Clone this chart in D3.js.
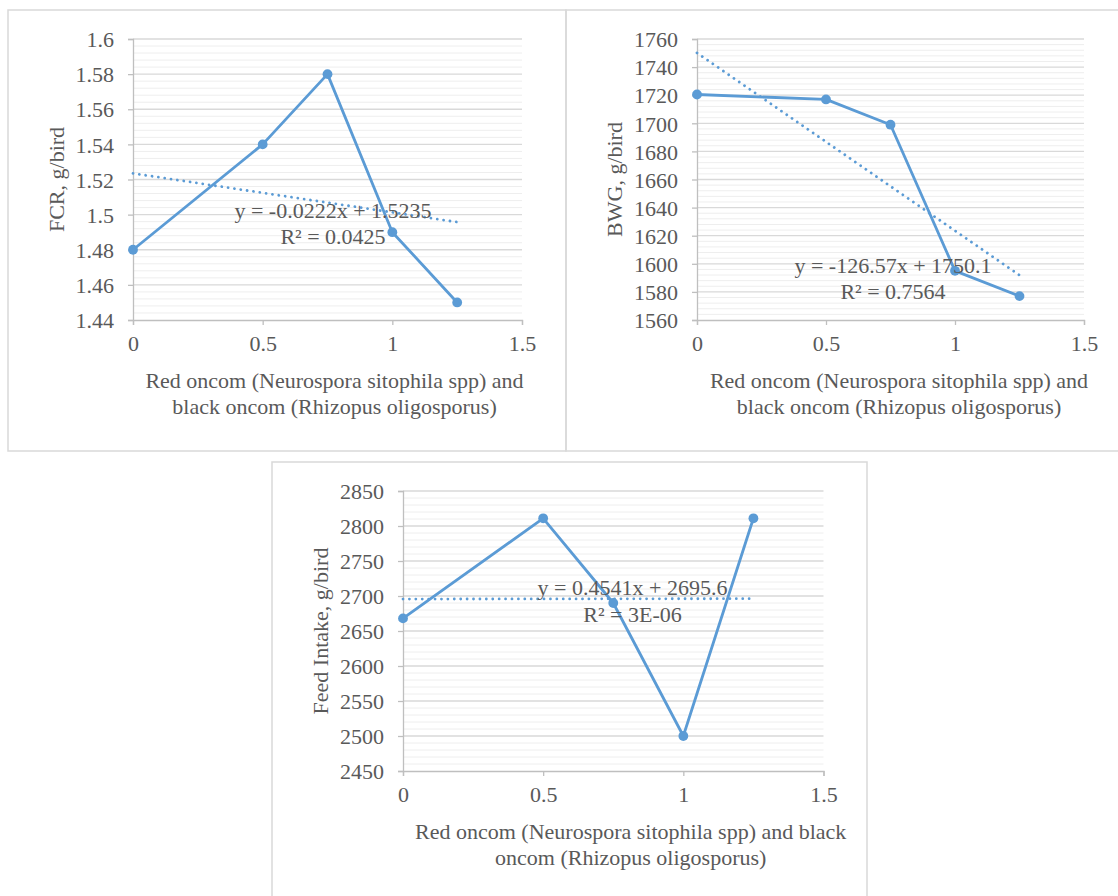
<!DOCTYPE html>
<html>
<head>
<meta charset="utf-8">
<script src="https://cdn.jsdelivr.net/npm/d3@7"></script>
<style>
  body { margin: 0; background: #fff; }
  svg { display: block; }
  text { font-family: "Liberation Serif", "Tinos", "Times New Roman", "DejaVu Serif", serif; fill: #595959; }
</style>
</head>
<body>
<svg id="chart" width="1118" height="896"></svg>
<script>
// Oncom level (x) shared by all three panels
const doseLevels = [0, 0.5, 0.75, 1, 1.25];
const xTicks = [0, 0.5, 1, 1.5];

// FCR panel
const fcrValues = [1.48, 1.54, 1.58, 1.49, 1.45];
const fcrTicks = [1.44, 1.46, 1.48, 1.5, 1.52, 1.54, 1.56, 1.58, 1.6];
const fcrTrend = [-0.0222, 1.5235];
const fcrTrendText = ['y = -0.0222x + 1.5235', 'R² = 0.0425'];

// BWG panel
const bwgValues = [1720.5, 1717, 1699, 1595, 1577];
const bwgTicks = [1560, 1580, 1600, 1620, 1640, 1660, 1680, 1700, 1720, 1740, 1760];
const bwgTrend = [-126.57, 1750.1];
const bwgTrendText = ['y = -126.57x + 1750.1', 'R² = 0.7564'];

// Feed intake panel
const feedValues = [2668, 2811, 2690, 2500, 2811];
const feedTicks = [2450, 2500, 2550, 2600, 2650, 2700, 2750, 2800, 2850];
const feedTrend = [0.4541, 2695.6];
const feedTrendText = ['y = 0.4541x + 2695.6', 'R² = 3E-06'];

const blue = '#5B9BD5';
const svg = d3.select('#chart');

// panel frames
svg.append('rect').attr('x', 8).attr('y', 10).attr('width', 558).attr('height', 441)
    .attr('fill', 'none').attr('stroke', '#d9d9d9').attr('stroke-width', 1.5);
svg.append('rect').attr('x', 566).attr('y', 10).attr('width', 570).attr('height', 441)
    .attr('fill', 'none').attr('stroke', '#d9d9d9').attr('stroke-width', 1.5);
svg.append('rect').attr('x', 272).attr('y', 462).attr('width', 595).attr('height', 460)
    .attr('fill', 'none').attr('stroke', '#d9d9d9').attr('stroke-width', 1.5);

function drawPanel(p) {
    const x = d3.scaleLinear().domain([0, 1.5]).range([p.left, p.right]);
    const y = d3.scaleLinear().domain(d3.extent(p.ticks)).range([p.bottom, p.top]);
    const g = svg.append('g');

    // minor gridlines (5 subdivisions)
    const minor = [];
    for (let i = 0; i < p.ticks.length - 1; i++) {
        const step = (p.ticks[i + 1] - p.ticks[i]) / 5;
        for (let k = 1; k < 5; k++) minor.push(p.ticks[i] + step * k);
    }
    g.selectAll('.minor').data(minor).enter().append('line')
        .attr('x1', p.left).attr('x2', p.right)
        .attr('y1', d => y(d)).attr('y2', d => y(d))
        .attr('stroke', '#eeeeee').attr('stroke-width', 1);

    // major gridlines
    g.selectAll('.major').data(p.ticks.slice(1)).enter().append('line')
        .attr('x1', p.left).attr('x2', p.right)
        .attr('y1', d => y(d)).attr('y2', d => y(d))
        .attr('stroke', '#d9d9d9').attr('stroke-width', 1.3);

    // y axis
    const yAxis = g.append('g').attr('transform', `translate(${p.left},0)`)
        .call(d3.axisLeft(y).tickValues(p.ticks).tickSize(5).tickPadding(14).tickFormat(d => String(d)));
    yAxis.attr('font-family', null);
    yAxis.select('.domain').attr('stroke', '#bfbfbf').attr('stroke-width', 1.3);
    yAxis.selectAll('.tick line').attr('stroke', '#bfbfbf').attr('stroke-width', 1.3);
    yAxis.selectAll('.tick text').attr('font-size', 22).attr('fill', '#595959').attr('dy', '0.35em');

    // x axis
    const xAxis = g.append('g').attr('transform', `translate(0,${p.bottom})`)
        .call(d3.axisBottom(x).tickValues(xTicks).tickSize(5).tickPadding(10).tickFormat(d => String(d)));
    xAxis.attr('font-family', null);
    xAxis.select('.domain').attr('stroke', '#bfbfbf').attr('stroke-width', 1.3);
    xAxis.selectAll('.tick line').attr('stroke', '#bfbfbf').attr('stroke-width', 1.3);
    xAxis.selectAll('.tick text').attr('font-size', 22).attr('fill', '#595959').attr('dy', '0.71em');

    // data line and markers
    const pts = doseLevels.map((d, i) => [d, p.values[i]]);
    g.append('path').datum(pts)
        .attr('d', d3.line().x(d => x(d[0])).y(d => y(d[1])))
        .attr('fill', 'none').attr('stroke', blue).attr('stroke-width', 2.8)
        .attr('stroke-linejoin', 'round');
    g.selectAll('.pt').data(pts).enter().append('circle')
        .attr('cx', d => x(d[0])).attr('cy', d => y(d[1])).attr('r', 4.9)
        .attr('fill', blue);

    // linear trendline (dotted)
    const x0 = d3.min(doseLevels), x1 = d3.max(doseLevels);
    g.append('line')
        .attr('x1', x(x0)).attr('y1', y(p.trend[0] * x0 + p.trend[1]))
        .attr('x2', x(x1)).attr('y2', y(p.trend[0] * x1 + p.trend[1]))
        .attr('stroke', blue).attr('stroke-width', 2.8)
        .attr('stroke-linecap', 'round').attr('stroke-dasharray', '0.01 6.4');

    // trend equation
    p.trendText.forEach((t, i) => {
        g.append('text').attr('x', p.eqX).attr('y', p.eqY + i * 26.5)
            .attr('dy', '0.35em').attr('text-anchor', 'middle')
            .attr('font-size', 22).text(t);
    });

    // axis titles
    p.xTitle.forEach((t, i) => {
        g.append('text').attr('x', p.xTitleX).attr('y', p.bottom + 60 + i * 26)
            .attr('dy', '0.35em').attr('text-anchor', 'middle')
            .attr('font-size', 22).text(t);
    });
    g.append('text')
        .attr('transform', `translate(${p.yTitleX},${(p.top + p.bottom) / 2}) rotate(-90)`)
        .attr('dy', '0.35em').attr('text-anchor', 'middle')
        .attr('font-size', 22).text(p.yTitle);
}

drawPanel({
    left: 133, right: 522, top: 39, bottom: 320,
    values: fcrValues, ticks: fcrTicks, trend: fcrTrend, trendText: fcrTrendText,
    eqX: 333, eqY: 210,
    xTitle: ['Red oncom (Neurospora sitophila spp) and', 'black oncom (Rhizopus oligosporus)'],
    xTitleX: 334.5, yTitle: 'FCR, g/bird', yTitleX: 56
});

drawPanel({
    left: 697, right: 1084, top: 39, bottom: 320,
    values: bwgValues, ticks: bwgTicks, trend: bwgTrend, trendText: bwgTrendText,
    eqX: 893, eqY: 265,
    xTitle: ['Red oncom (Neurospora sitophila spp) and', 'black oncom (Rhizopus oligosporus)'],
    xTitleX: 899, yTitle: 'BWG, g/bird', yTitleX: 614
});

drawPanel({
    left: 403, right: 823.5, top: 491, bottom: 771,
    values: feedValues, ticks: feedTicks, trend: feedTrend, trendText: feedTrendText,
    eqX: 632.5, eqY: 587.5,
    xTitle: ['Red oncom (Neurospora sitophila spp) and black', 'oncom (Rhizopus oligosporus)'],
    xTitleX: 630.7, yTitle: 'Feed Intake, g/bird', yTitleX: 320
});
</script>
</body>
</html>
